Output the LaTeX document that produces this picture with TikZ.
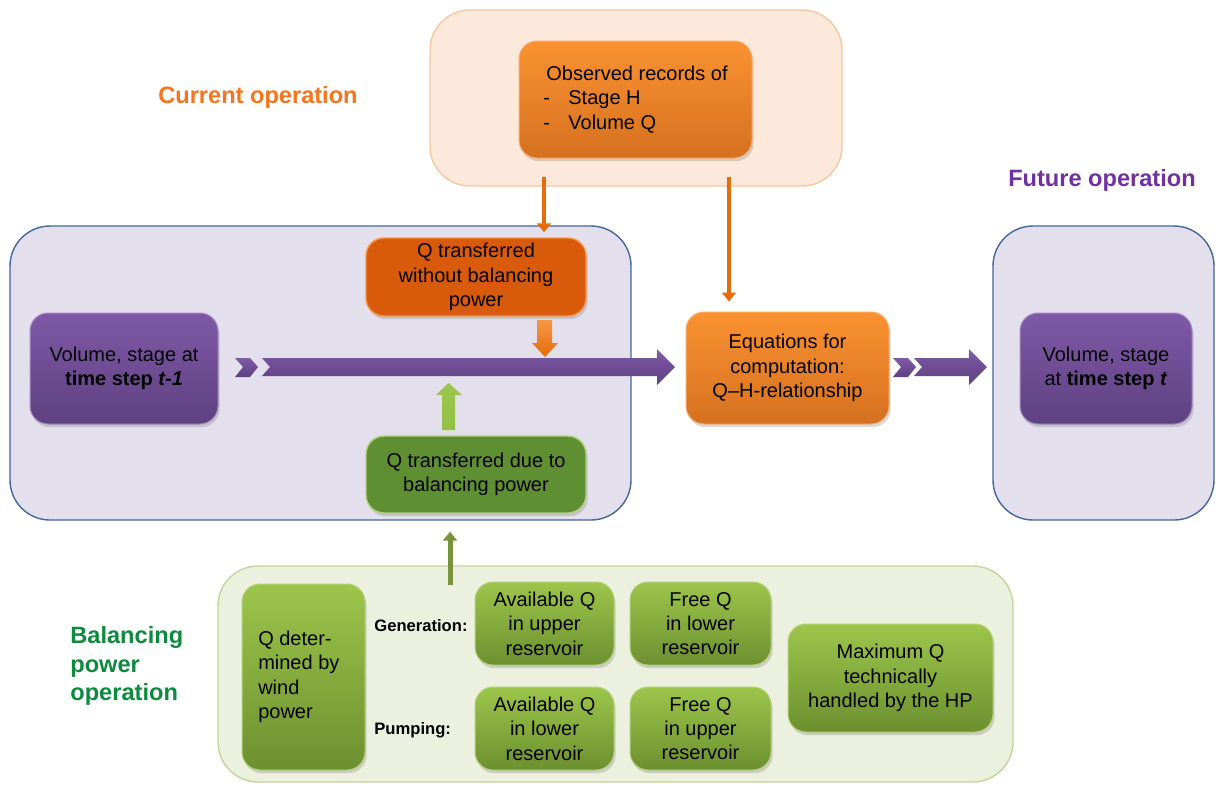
\documentclass[tikz,border=0pt]{standalone}
\usepackage{fontspec}
\setmainfont{Liberation Sans}
\usetikzlibrary{shadows,calc,arrows.meta}
\definecolor{peachfill}{HTML}{FCE9DB}
\definecolor{peachdraw}{HTML}{F9C6A0}
\definecolor{lavfill}{HTML}{E4DFEC}
\definecolor{lavdraw}{HTML}{41689A}
\definecolor{gfill}{HTML}{EBF0DF}
\definecolor{gdraw}{HTML}{C3D69B}
\definecolor{purtop}{HTML}{7F59A7}
\definecolor{purbot}{HTML}{5E4181}
\definecolor{ortop}{HTML}{FA9232}
\definecolor{orbot}{HTML}{D5701F}
\definecolor{ordark}{HTML}{D95A0B}
\definecolor{orlight}{HTML}{F79646}
\definecolor{orline}{HTML}{E46C0A}
\definecolor{gdark}{HTML}{5F8F33}
\definecolor{gtop}{HTML}{9DC54B}
\definecolor{gbot}{HTML}{6C902F}
\definecolor{gedge}{HTML}{B3D07A}
\definecolor{gline}{HTML}{77933C}
\definecolor{gblock}{HTML}{93C047}
\definecolor{curcol}{HTML}{F7741B}
\definecolor{futcol}{HTML}{7030A0}
\definecolor{balcol}{HTML}{0E8A3E}
\tikzset{
  bigpanel/.style={rectangle, rounded corners=20pt, line width=0.7pt, inner sep=0pt},
  innerbox/.style={rectangle, rounded corners=9pt, inner sep=0pt, align=center,
    font=\fontsize{10pt}{12.2pt}\selectfont,
    drop shadow={opacity=0.3, shadow xshift=0.8pt, shadow yshift=-1.6pt}},
  purbox/.style={innerbox, top color=purtop, bottom color=purbot, draw=purtop!70!white, line width=0.5pt},
  orbox/.style={innerbox, top color=ortop, bottom color=orbot, draw=orlight!80!white, line width=0.5pt},
  grbox/.style={innerbox, top color=gtop, bottom color=gbot, draw=gedge, line width=0.5pt},
  title/.style={font=\bfseries\fontsize{11.8pt}{14.25pt}\selectfont, inner sep=0pt},
  smalllabel/.style={font=\bfseries\fontsize{8.3pt}{10pt}\selectfont, inner sep=0pt, anchor=west},
  thinarrow/.style={line width=2pt, -{Triangle[length=4.5pt,width=7pt]}},
}
\begin{document}
\begin{tikzpicture}[x=0.5pt,y=-0.5pt]
\useasboundingbox (0,0) rectangle (1216,784);
% panels
\node[bigpanel, fill=peachfill, draw=peachdraw, minimum width=206pt, minimum height=88pt] (peach) at (636,98) {};
\node[bigpanel, fill=lavfill, draw=lavdraw, minimum width=310.5pt, minimum height=147pt] (leftp) at (320.5,373) {};
\node[bigpanel, fill=lavfill, draw=lavdraw, minimum width=110.5pt, minimum height=147pt] (rightp) at (1103.5,373) {};
\node[bigpanel, fill=gfill, draw=gdraw, minimum width=397.5pt, minimum height=108pt] (botp) at (615.5,674) {};
% titles
\node[title, text=curcol] (tcur) at (258,97) {Current operation};
\node[title, text=futcol] (tfut) at (1102,180) {Future operation};
\node[title, text=balcol, align=left, anchor=west] (tbal) at (70,666) {Balancing\\power\\operation};
% boxes
\node[orbox, minimum width=116.5pt, minimum height=58.5pt, align=left] (obs) at (635.5,99.5)
  {\hspace*{1.5pt}Observed records of\\\makebox[12.5pt][l]{-}Stage H\\\makebox[12.5pt][l]{-}Volume Q};
\node[purbox, minimum width=94pt, minimum height=55.5pt] (tprev) at (124,368.5)
  {Volume, stage at\\\textbf{time step \textit{t-1}}};
\node[innerbox, fill=ordark, draw=orlight, line width=0.7pt, minimum width=110pt, minimum height=39pt] (qwo) at (476,277)
  {Q transferred\\without balancing\\power};
\node[innerbox, fill=gdark, draw=gedge, line width=0.7pt, minimum width=110pt, minimum height=38.5pt] (qdue) at (476,474.5)
  {Q transferred due to\\balancing power};
\node[orbox, minimum width=101.5pt, minimum height=56pt] (eq) at (787.5,368)
  {Equations for\\computation:\\Q--H-relationship};
\node[purbox, minimum width=86pt, minimum height=55.5pt] (tnow) at (1106,368.5)
  {Volume, stage\\at \textbf{time step \textit{t}}};
\node[grbox, minimum width=61.5pt, minimum height=93pt, align=left] (wind) at (303.5,677)
  {Q deter-\\mined by\\wind\\power\hspace*{18pt}};
\node[grbox, minimum width=69.5pt, minimum height=41.5pt] (au) at (544.5,623.5)
  {Available Q\\in upper\\reservoir};
\node[grbox, minimum width=70.5pt, minimum height=41.5pt] (fl) at (700.5,623.5)
  {Free Q\\in lower\\reservoir};
\node[grbox, minimum width=69.5pt, minimum height=41.5pt] (al) at (544.5,728.5)
  {Available Q\\in lower\\reservoir};
\node[grbox, minimum width=70.5pt, minimum height=41.5pt] (fu) at (700.5,728.5)
  {Free Q\\in upper\\reservoir};
\node[grbox, minimum width=102.5pt, minimum height=54pt] (mx) at (890.5,678)
  {Maximum Q\\technically\\handled by the HP};
\node[smalllabel] (lgen) at (374,626) {Generation:};
\node[smalllabel] (lpump) at (374,730) {Pumping:};
% thin connectors
\coordinate (o1) at (544,177);
\coordinate (o2) at (729,177);
\coordinate (g1) at (450,585);
\draw[thinarrow, draw=orline, fill=orline, shorten >=2.5pt] (o1) -- (o1 |- qwo.north);
\draw[thinarrow, draw=orline, fill=orline, shorten >=5pt] (o2) -- (o2 |- eq.north);
\draw[thinarrow, draw=gline, fill=gline, line width=2.5pt, shorten >=5.5pt] (g1) -- (g1 |- leftp.south);
% block arrows (main flow)
\shade[top color=purtop, bottom color=purbot]
  (235,358) -- (250,358) -- (258,367) -- (250,377) -- (235,377) -- (243,367) -- cycle;
\shade[top color=purtop, bottom color=purbot]
  (262,358) -- (657,358) -- (657,349) -- (675,367) -- (657,385) -- (657,376) -- (262,376) -- (270,367) -- cycle;
\shade[top color=purtop, bottom color=purbot]
  (893,358) -- (908,358) -- (916,367) -- (908,377) -- (893,377) -- (901,367) -- cycle;
\shade[top color=purtop, bottom color=purbot]
  (914,358) -- (969,358) -- (969,349) -- (987,367) -- (969,385) -- (969,376) -- (914,376) -- (922,367) -- cycle;
% small block arrows into the flow
\shade[top color=orlight, bottom color=orline]
  (537,320) -- (552,320) -- (552,343) -- (558,343) -- (545,357) -- (532,343) -- (537,343) -- cycle;
\shade[top color=gtop, bottom color=gblock]
  (442,430) -- (455,430) -- (455,395) -- (462,395) -- (448.5,383) -- (436,395) -- (442,395) -- cycle;
\end{tikzpicture}
\end{document}
